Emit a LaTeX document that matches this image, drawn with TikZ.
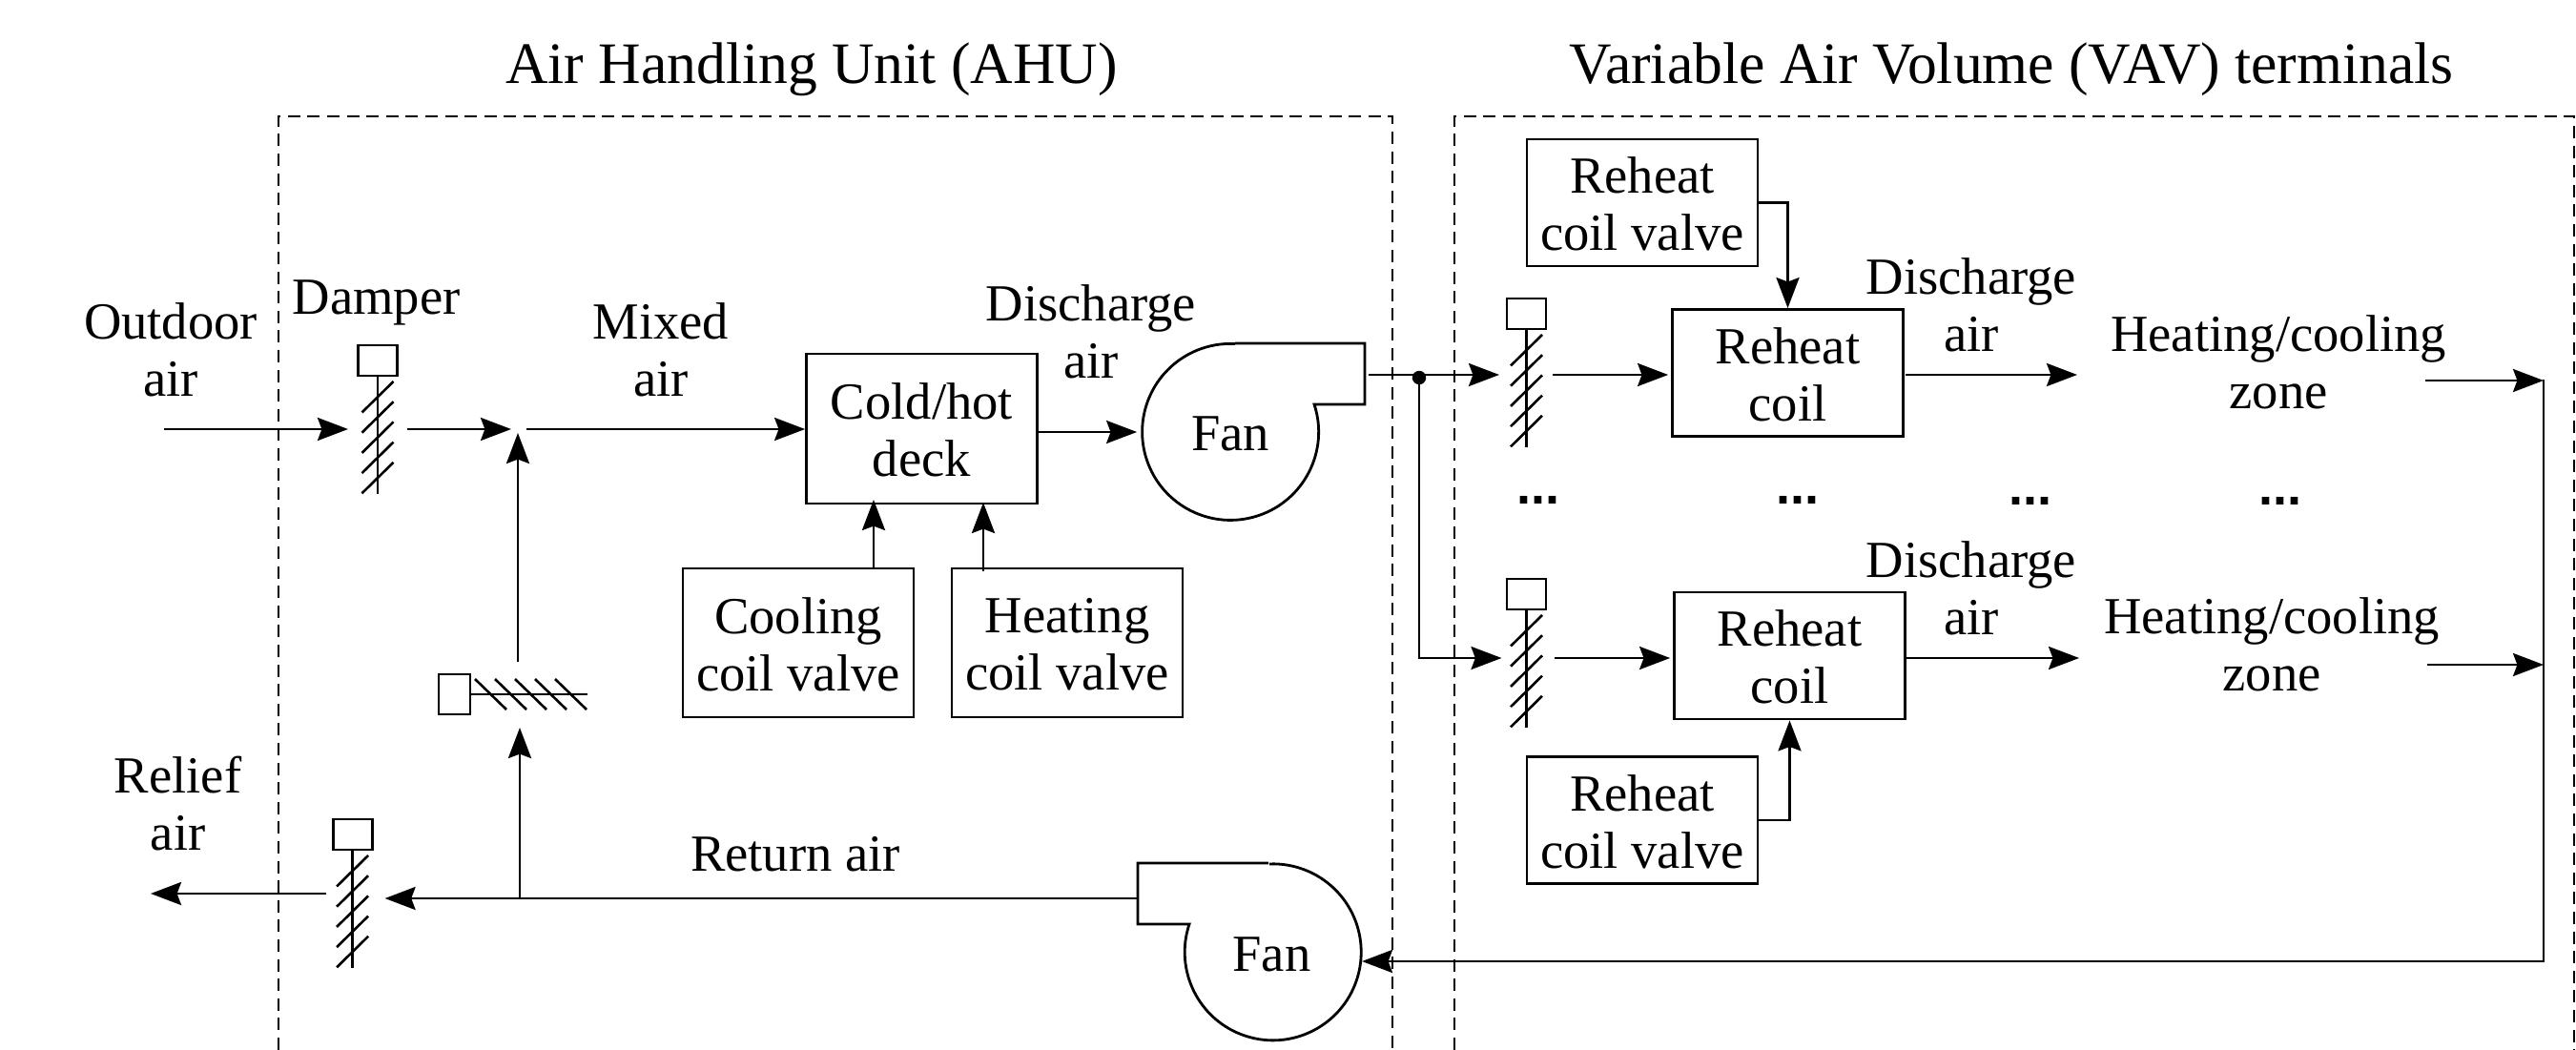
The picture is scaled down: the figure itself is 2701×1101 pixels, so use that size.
\documentclass[tikz,border=0pt]{standalone}
\usepackage{fontspec}
\setmainfont{Liberation Serif}
\setsansfont{Liberation Sans}
\usetikzlibrary{arrows.meta}
\tikzset{
  lw/.style={line width=1.4pt},
  arr/.style={lw,-{Stealth[length=16pt,width=12pt,inset=2.2pt]}},
  dashbox/.style={line width=1.3pt,dash pattern=on 6.5pt off 3.8pt},
  hatch/.style={line width=1.3pt},
  lab/.style={font=\fontsize{27.3}{30}\selectfont,align=center,inner sep=0pt},
  ttl/.style={font=\fontsize{30.8}{33}\selectfont,anchor=base,inner sep=0pt},
  elips/.style={font=\fontsize{27}{30}\sffamily\bfseries\selectfont,anchor=base,inner sep=0pt},
  boxA/.style={lab,draw,lw,minimum width=121pt,minimum height=78pt},
  boxB/.style={lab,draw,lw,minimum width=121pt,minimum height=66.5pt},
  act/.style={draw,lw,inner sep=0pt,minimum width=20.5pt,minimum height=16pt},
  acth/.style={draw,lw,inner sep=0pt,minimum width=16.5pt,minimum height=21pt},
  fanc/.style={lab,circle,minimum size=92.5pt},
  jn/.style={circle,fill,inner sep=0pt,minimum size=7.2pt},
}
\newcommand{\vdamp}[3]{% name, x, top y of actuator
  \node[act] (#1) at (#2,#3+16) {};
  \draw[lw] (#1.south) -- (#2,#3+155.5);
  \foreach \k in {0,1,2,3,4}
    \draw[hatch] (#2-16.5,#3+70.5+21.2*\k) -- (#2+16.5,#3+38+21.2*\k);
}
\newcommand{\dn}[1]{\raisebox{-0.9pt}[\height][\depth]{#1}}
\begin{document}
\begin{tikzpicture}[x=0.5pt,y=-0.5pt]
\useasboundingbox (0,0) rectangle (2701,1101);
% frames
\draw[dashbox] (292,1101) -- (292,122) -- (1460,122) -- (1460,1101);
\draw[dashbox] (1525,1101) -- (1525,122) -- (2699,122) -- (2699,1101);
% titles
\node[ttl] (t1) at (851,88) {Air Handling Unit (AHU)};
\node[ttl] (t2) at (2109,88) {Variable Air Volume (VAV) terminals};
% labels
\node[lab] (outdoor) at (179,366.5) {Outdoor\\air};
\node[lab,anchor=base] (damper) at (394.6,329) {Damper};
\node[lab] (mixed) at (693,366.5) {Mixed\\air};
\node[lab] (dis0) at (1144,347.5) {Discharge\\air};
\node[lab] (relief) at (186.6,843) {Relief\\air};
\node[lab,anchor=base] (ret) at (834,913) {Return air};
\node[lab] (dis1) at (2067,320) {Discharge\\air};
\node[lab] (dis2) at (2067,617) {Discharge\\air};
\node[lab] (zone1) at (2389,379.5) {Heating/cooling\\zone};
\node[lab] (zone2) at (2382,675.5) {Heating/cooling\\zone};
% boxes
\node[boxB,minimum height=78.5pt] (deck) at (966.5,449.5) {\dn{Cold/hot}\\\dn{deck}};
\node[boxA] (coolv) at (837,674) {\dn{Cooling}\\\dn{coil valve}};
\node[boxA] (heatv) at (1119,674) {\dn{Heating}\\\dn{coil valve}};
\node[boxB] (rv1) at (1722,212.5) {\dn{Reheat}\\\dn{coil valve}};
\node[boxB] (coil1) at (1874.5,391) {\dn{Reheat}\\\dn{coil}};
\node[boxB] (coil2) at (1876.5,687.5) {\dn{Reheat}\\\dn{coil}};
\node[boxB] (rv2) at (1722,860) {\dn{Reheat}\\\dn{coil valve}};
% fans
\node[fanc] (fan1) at (1290,453) {};
\node[lab,anchor=base] (fan1t) at (1290,472) {Fan};
\draw[lw,line join=miter] (1295,360) -- (1431,360) -- (1431,424) -- (1378,424)
   arc[start angle=-18.2,end angle=273,radius=92.5];
\node[fanc] (fan2) at (1333.5,998) {};
\node[lab,anchor=base] (fan2t) at (1333.5,1018) {Fan};
\draw[lw,line join=miter] (1330,905) -- (1193,905) -- (1193,969) -- (1247,969)
   arc[start angle=198.5,end angle=-92.2,radius=92.5];
% dampers
\vdamp{dOA}{396}{362}
\vdamp{dRA}{369.6}{859}
\vdamp{dV1}{1600.5}{313}
\vdamp{dV2}{1600.5}{607}
\node[acth] (dMX) at (476.5,728) {};
\draw[lw] (dMX.east) -- (616,728);
\foreach \k in {0,1,2,3,4}
  \draw[hatch] (498+21*\k,712) -- (531+21*\k,744);
% free connector ends
\coordinate (oaS) at (172,450);
\coordinate (oaE) at (365,450);
\coordinate (mxS) at (427,450);
\coordinate (mxE) at (536,450);
\coordinate (mxO) at (552,450);
\coordinate (upS) at (543,694);
\coordinate (upE) at (543,454);
\coordinate (rrE) at (403.6,942);
\coordinate (upR) at (545,942);
\coordinate (upT) at (545,763);
\coordinate (rlS) at (342,937);
\coordinate (rlE) at (158,937);
\coordinate (fnO) at (1435,393);
\coordinate (v1E) at (1572,393);
\coordinate (v2E) at (1574.5,690);
\coordinate (c1S) at (1628,393);
\coordinate (c1O) at (1998,393);
\coordinate (c1E) at (2178,393);
\coordinate (c2S) at (1630,690);
\coordinate (c2O) at (1999,690);
\coordinate (c2E) at (2180,690);
\coordinate (z1S) at (2543,399);
\coordinate (z2S) at (2545,697);
\coordinate (busT) at (2667,398);
\coordinate (busB) at (2667,1008);
\coordinate (z1E) at (2667,399);
\coordinate (z2E) at (2667,697);
\coordinate (fnI) at (1428,1008);
\coordinate (deckO) at (1089,453);
\coordinate (fan2L) at (1193,942);
\coordinate (a1) at (916,524);
\coordinate (a2) at (1031,527);
\coordinate (a2s) at (1031,599);
% connectors
\draw[arr] (oaS) -- (oaE);
\draw[arr] (mxS) -- (mxE);
\draw[arr] (mxO) -- (deck.west |- mxO);
\draw[arr] (upS) -- (upE);
\draw[arr] (deckO) -- (fan1.west |- deckO) [shorten >=2.5pt];
\draw[arr] (coolv.north -| a1) -- (a1);
\draw[arr] (a2s) -- (a2);
\node[jn] (junc) at (1488,396) {};
\draw[arr] (fnO) -- (v1E);
\draw[arr] (junc.center) |- (v2E);
\draw[arr] (c1S) -- (coil1.west |- c1S) [shorten >=1.5pt];
\draw[arr] (c2S) -- (coil2.west |- c2S) [shorten >=1.5pt];
\draw[arr] (c1O) -- (c1E);
\draw[arr] (c2O) -- (c2E);
\draw[arr] (rv1.east) -| (coil1.north);
\draw[arr] (rv2.east) -| (coil2.south);
\draw[arr] (z1S) -- (z1E);
\draw[arr] (z2S) -- (z2E);
\draw[arr] (busT) -- (busB) -- (fnI);
\draw[arr] (fan2L) -- (rrE);
\draw[arr] (upR) -- (upT);
\draw[arr] (rlS) -- (rlE);
% ellipses
\node[elips] (e1) at (1613,528) {...};
\node[elips] (e2) at (1885,528) {...};
\node[elips] (e3) at (2128.5,529) {...};
\node[elips] (e4) at (2390.5,529) {...};
\end{tikzpicture}
\end{document}
